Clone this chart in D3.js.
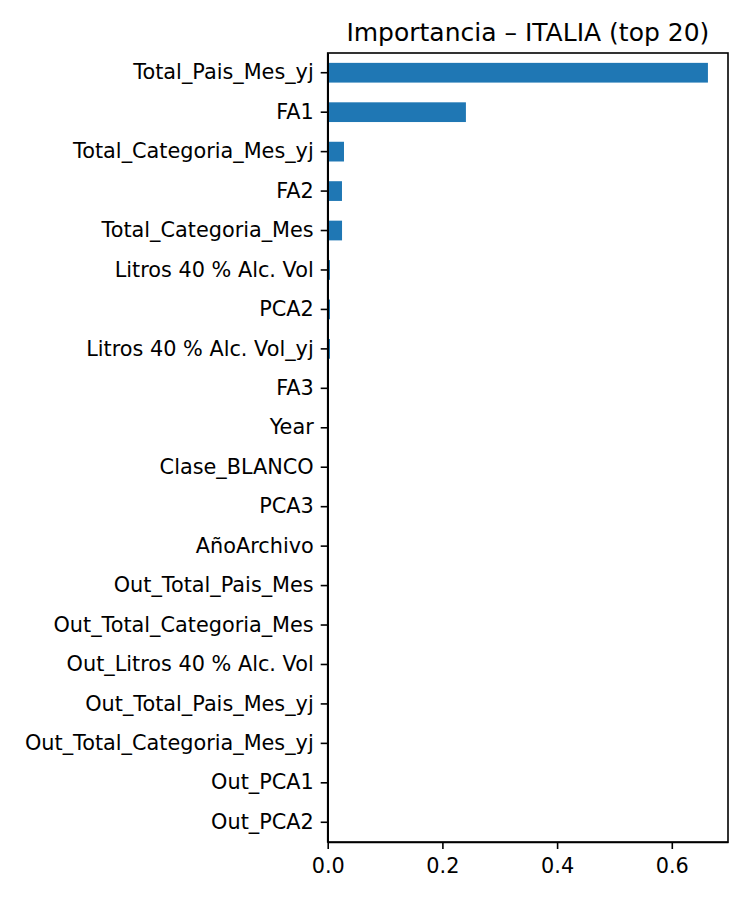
<!DOCTYPE html>
<html>
<meta charset="utf-8">
<style>
body { margin: 0; background: #fff; font-family: 'DejaVu Sans'; }
.axis path, .axis line { stroke: #000; stroke-width: 1.6px; }
.axis text { font-size: 20.8px; fill: #000; font-family: 'DejaVu Sans'; }
</style>
<body>
<script src="https://cdn.jsdelivr.net/npm/d3@7/dist/d3.min.js"></script>
<script>
var features = ["Total_Pais_Mes_yj", "FA1", "Total_Categoria_Mes_yj", "FA2", "Total_Categoria_Mes",
  "Litros 40 % Alc. Vol", "PCA2", "Litros 40 % Alc. Vol_yj", "FA3", "Year", "Clase_BLANCO", "PCA3",
  "AñoArchivo", "Out_Total_Pais_Mes", "Out_Total_Categoria_Mes", "Out_Litros 40 % Alc. Vol",
  "Out_Total_Pais_Mes_yj", "Out_Total_Categoria_Mes_yj", "Out_PCA1", "Out_PCA2"];
var importance = [0.663, 0.241, 0.0284, 0.0249, 0.025, 0.004, 0.004, 0.004, 0.0012, 0.0002,
  0, 0, 0, 0, 0, 0, 0, 0, 0, 0];
var xTicks = [0, 0.2, 0.4, 0.6];

var w = 750, h = 900;
var plotLeft = 327.7, plotRight = 728, plotTop = 53, plotBottom = 842;

var svg = d3.select("body").append("svg")
    .attr("width", w)
    .attr("height", h);

var x = d3.scaleLinear().domain([0, 0.698]).range([plotLeft, plotRight]);
var y = d3.scaleBand().domain(features).range([plotTop, plotBottom])
    .paddingInner(0.5).paddingOuter(0.25);

// bars
svg.selectAll(".bar")
    .data(features)
    .enter()
    .append("rect")
    .attr("class", "bar")
    .attr("x", x(0))
    .attr("y", function(d) { return y(d); })
    .attr("width", function(d, i) { return x(importance[i]) - x(0); })
    .attr("height", y.bandwidth())
    .style("fill", "#1f77b4");

// axes
var xAxis = d3.axisBottom(x).tickValues(xTicks).tickFormat(d3.format(".1f"))
    .tickSize(7).tickPadding(7).tickSizeOuter(0);
svg.append("g")
    .attr("class", "axis")
    .attr("transform", "translate(0," + plotBottom + ")")
    .call(xAxis)
    .selectAll("text").attr("dy", "0.8em");

var yAxis = d3.axisLeft(y).tickSize(7).tickPadding(7).tickSizeOuter(0);
svg.append("g")
    .attr("class", "axis")
    .attr("transform", "translate(" + plotLeft + ",0)")
    .call(yAxis);

// frame
svg.append("rect")
    .attr("x", plotLeft)
    .attr("y", plotTop)
    .attr("width", plotRight - plotLeft)
    .attr("height", plotBottom - plotTop)
    .style("fill", "none")
    .style("stroke", "#000")
    .style("stroke-width", 1.6);

// title
svg.append("text")
    .attr("x", (plotLeft + plotRight) / 2)
    .attr("y", plotTop - 12.5)
    .style("text-anchor", "middle")
    .style("font-size", "25px")
    .style("fill", "#000")
    .text("Importancia – ITALIA (top 20)");
</script>
</body>
</html>
